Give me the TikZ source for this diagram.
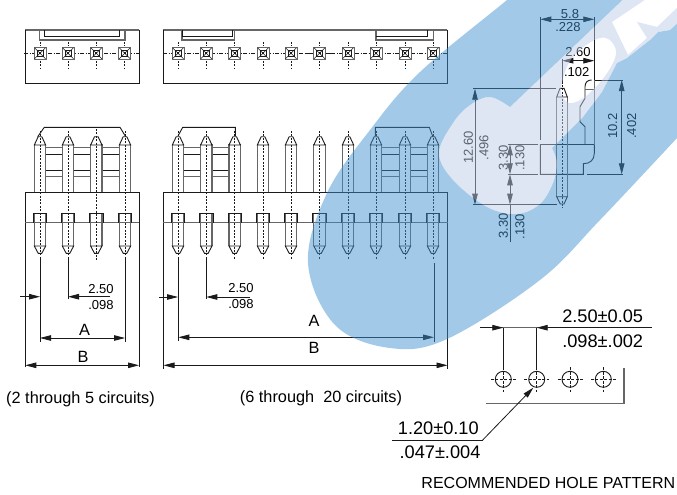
\documentclass[tikz,border=0pt]{standalone}
\usepackage{fontspec}
\setmainfont{Liberation Sans}
\usetikzlibrary{arrows.meta}
\definecolor{wmblue}{HTML}{3E92D0}
\definecolor{wmpale}{HTML}{BBCCE9}
\definecolor{ink}{HTML}{1A1A1A}
\definecolor{soft}{HTML}{666666}
\newcommand{\szS}{\fontsize{13}{13}\selectfont}
\newcommand{\szM}{\fontsize{16.3}{16.3}\selectfont}
\newcommand{\szL}{\fontsize{18.2}{18.2}\selectfont}
\newcommand{\szR}{\fontsize{16}{16}\selectfont}
\tikzset{
  ln/.style={draw=ink,line width=0.9pt},
  gl/.style={draw=soft,line width=1.1pt},
  thin ln/.style={draw=ink,line width=0.5pt},
  ctr/.style={draw=ink,line width=0.8pt,dash pattern=on 2pt off 1.4pt},
  ctrl/.style={draw=ink,line width=0.6pt,dash pattern=on 4pt off 1.5pt on 1pt off 1.5pt},
  dim/.style={draw=ink,line width=0.8pt},
  dimboth/.style={dim,{Triangle[length=11pt,width=5.5pt]}-{Triangle[length=11pt,width=5.5pt]}},
  tipend/.style={dim,-{Triangle[length=11pt,width=5.5pt]}},
  txt/.style={inner sep=0pt,text=black,font=\szS},
  txtm/.style={inner sep=0pt,text=black,font=\szM},
  txtl/.style={inner sep=0pt,text=black,font=\szL},
}
% plan view of one pin
\newcommand{\PinTop}[1]{
  \fill[white] (#1-6,47.3) rectangle (#1+6,59.3);
  \draw[gl,line width=0.9pt] (#1-6,47.3) rectangle (#1+6,59.3);
  \draw[thin ln] (#1-3,50.3) rectangle (#1+3,56.3);
  \draw[thin ln] (#1-5.5,47.8) -- (#1+5.5,58.8) (#1-5.5,58.8) -- (#1+5.5,47.8);
  \fill[ink] (#1-1,52.3) rectangle (#1+1,54.3);
  \draw[ctr,line width=0.6pt] (#1,42) -- (#1,46) (#1,61) -- (#1,68);
}
% front view of one pin
\newcommand{\PinFront}[2]{
  \draw[gl] (#1-5.7,192.3) -- (#1-5.7,144) (#1+5.7,192.3) -- (#1+5.7,144);
  \draw[ln] (#1-5.7,145) -- (#1-1.8,136.7) -- (#1+1.8,136.7) -- (#1+5.7,145) -- cycle;
  \draw[gl] (#1-5.7,213.3) -- (#1-5.7,246) (#1+5.7,213.3) -- (#1+5.7,246);
  \draw[ln] (#1-5.7,246) -- (#1-1.8,253.3) -- (#1+1.8,253.3) -- (#1+5.7,246) -- cycle;
  \draw[ln] (#1-6.7,222.7) -- (#1-6.7,213.3) -- (#1+6.7,213.3) -- (#1+6.7,222.7);
  \draw[ctr] (#1,#2) -- (#1,260);
}
\newcommand{\Bars}[2]{
  \draw[gl] (#1+5.7,147.7) -- (#2-5.7,147.7) (#1+5.7,176.7) -- (#2-5.7,176.7);
  \draw[ln] (#1+5.7,154.3) -- (#2-5.7,154.3) (#1+5.7,170) -- (#2-5.7,170);
}
\newcommand{\OuterPath}{
  plot[smooth,tension=.6] coordinates {(677,138) (600,220) (540,280) (447,339) (390,348) (335,325) (308,263) (327,193) (370,130) (420,72) (507,0) (530,-20)}
  -- (700,-20) -- (700,138) -- cycle}
\newcommand{\PalePath}{
  plot[smooth,tension=.6] coordinates {(510,107) (490,97) (470,105) (453,123) (439,153) (453,180) (487,207) (517,214) (540,204) (553,183) (557,163) (552,148)}
  -- (583,117) -- (602,92) -- (617,63) -- (627,58) -- (650,40) -- (658,32) -- (670,30) -- (690,12) -- (690,-10) -- (633,-10) -- cycle}
\newcommand{\HolePath}{
  plot[smooth cycle,tension=.7] coordinates {(562,83) (573,57) (600,38) (615,47) (612,65) (593,90) (573,103) (563,97)}}
\newcommand{\LetterPath}{
  (612,22) -- (628,55) -- (647,38) -- (637,22) -- (657,27) -- (680,5) -- (680,-5) -- (652,-5) -- cycle}
\begin{document}
\begin{tikzpicture}[x=1pt,y=-1pt]
\useasboundingbox (0,0) rectangle (677,495);
\fill[white] (0,0) rectangle (677,495);
% ---- plan view, small connector
\draw[gl] (25.3,30) -- (139,30);
\draw[ln] (139,30) -- (139,83) -- (25.3,83) -- (25.3,30);
\draw[gl] (39.3,30) -- (39.3,40) -- (125,40) -- (125,30);
\draw[ln] (44.7,30) -- (44.7,36) -- (119.3,36) -- (119.3,30);
\draw[ctrl] (24,53.3) -- (140,53.3);
\foreach \p in {40,68,96.3,124.7} {\PinTop{\p}}
% ---- plan view, long connector
\draw[gl] (163.3,30) -- (447.3,30);
\draw[ln] (447.3,30) -- (447.3,83.5) -- (163.3,83.5) -- (163.3,30);
\draw[gl] (182,30) -- (182,40) -- (234.7,40) -- (234.7,30);
\draw[ln] (182,30) -- (182,36) -- (232.7,36) -- (232.7,30);
\draw[gl] (376,30) -- (376,40) -- (433.3,40) -- (433.3,30);
\draw[ln] (376,36) -- (427.7,36) -- (427.7,30);
\draw[ctrl] (163,53.3) -- (448,53.3);
\draw[ln] (306,53.3) -- (333,53.3);
\foreach \p in {178,206.3,234.7,263,291,319.5,348,376,405,433} {\PinTop{\p}}
% ---- front view, small connector
\draw[ln] (25,367) -- (25,192.3) -- (139,192.3) -- (139,367);
\draw[gl] (25,222.7) -- (139,222.7);
\Bars{40}{68} \Bars{68}{96.3} \Bars{96.3}{125}
\fill[white] (40-5,214) rectangle (40+6,222);
\fill[white] (68-5,214) rectangle (68+6,222);
\fill[white] (96.3-5,214) rectangle (96.3+6,222);
\fill[white] (125-5,214) rectangle (125+6,222);
\foreach \p/\t in {40/131,68/131,96.3/129,125/131} {\fill[white] (\p-6,223) rectangle (\p+6,224); \PinFront{\p}{\t}}
\draw[ln] (37.7,136.7) -- (44.3,127.3) -- (120,127.3) -- (125.7,136.7);
% ---- front view, long connector
\draw[ln] (163.3,369) -- (163.3,192.3) -- (447.5,192.3) -- (447.5,369);
\draw[gl] (163.3,222.7) -- (447.5,222.7);
\Bars{178}{206.3} \Bars{206.3}{234.7} \Bars{376}{405} \Bars{405}{433}
\foreach \p in {178,206.3,234.7,263,291,319.5,348,376,405,433} {\fill[white] (\p-6,214) rectangle (\p+6,222); \PinFront{\p}{131}}
\draw[ln] (178,136) -- (182.7,127.3) -- (235.3,127.3) -- (235.3,136);
\draw[ln] (375.3,136) -- (375.3,127.3) -- (429.3,127.3) -- (433,137);
% ---- dimensions small
\draw[dim] (40,258) -- (40,342) (68,258) -- (68,299) (125,258) -- (125,342);
\coordinate (a1) at (20,296.7); \coordinate (a2) at (40,296.7);
\coordinate (a3) at (110,296.7); \coordinate (a4) at (68,296.7);
\draw[tipend] (a1) -- (a2); \draw[tipend] (a3) -- (a4);
\node[txt] (t1) at (101,289.3) {2.50};
\node[txt] (t2) at (101,304.8) {.098};
\coordinate (a5) at (40,338); \coordinate (a6) at (125,338);
\draw[dimboth] (a5) -- (a6);
\node[txtm] (t3) at (84.5,329.5) {A};
\coordinate (b1) at (25.3,365.3); \coordinate (b2) at (139,365.3);
\draw[dimboth] (b1) -- (b2);
\node[txtm] (t4) at (83,356.5) {B};
\node[txtm] (t5) at (80.5,399) {(2 through 5 circuits)};
% ---- dimensions long
\draw[dim] (178,258) -- (178,341) (206.3,258) -- (206.3,299) (434,263) -- (434,341.7);
\coordinate (c1) at (159.3,297); \coordinate (c2) at (178,297);
\coordinate (c3) at (250,297); \coordinate (c4) at (206.3,297);
\draw[tipend] (c1) -- (c2); \draw[tipend] (c3) -- (c4);
\node[txt] (t6) at (241,288.3) {2.50};
\node[txt] (t7) at (241,303.8) {.098};
\coordinate (c5) at (178.3,337.3); \coordinate (c6) at (434,337.3);
\draw[dimboth] (c5) -- (c6);
\node[txtm] (t8) at (314,320.5) {A};
\coordinate (c7) at (163.5,365.3); \coordinate (c8) at (447.5,365.3);
\draw[dimboth] (c7) -- (c8);
\node[txtm] (t9) at (314,348) {B};
\node[txtm] (t10) at (321,398) {(6 through\ \ 20 circuits)};
% ---- side view
\draw[ln] (540.3,144.3) -- (594.3,144.3);
\draw[ln] (594.3,144.3) -- (594.3,153.3) .. controls (594.3,160) and (590,163.7) .. (583.3,163.7) -- (583.3,174.3) -- (540.3,174.3) -- (540.3,144.3);
\draw[gl] (594.3,144.3) -- (594.3,80);
\draw[ln] (585,144.3) -- (585,126.7) -- (580,121.7) -- (580,106.7) -- (585,98.3) -- (585,86.7) .. controls (585,82) and (588,80) .. (591.7,80);
\draw[gl] (585,89.3) -- (594.3,89.3);
\draw[gl] (556.7,96.7) -- (556.7,196.7) (567.3,96.7) -- (567.3,196.7);
\draw[ln] (556.7,97) -- (560,88.3) -- (564,88.3) -- (567.3,97) -- cycle;
\draw[ln] (556.7,196.7) -- (560.3,204) -- (564,204) -- (567.3,196.7) -- cycle;
\draw[ctr,line width=0.6pt] (562,85) -- (562,208);
% dims of side view
\draw[dim] (540.3,17) -- (540.3,140) (594.3,17) -- (594.3,80);
\coordinate (d1) at (540.3,19.3); \coordinate (d2) at (594.3,19.3);
\draw[dimboth] (d1) -- (d2);
\node[txt] (t11) at (570,13.7) {5.8};
\node[txt] (t12) at (568,26.7) {.228};
\draw[dim] (562.3,59) -- (562.3,84);
\coordinate (d3) at (562.3,60.7); \coordinate (d4) at (594.3,60.7);
\draw[dimboth] (d3) -- (d4);
\node[txt] (t13) at (578,52.3) {2.60};
\node[txt] (t14) at (576.7,71.7) {.102};
\draw[dim] (595,80) -- (623.3,80) (587.3,174.3) -- (623.3,174.3);
\coordinate (d5) at (621.7,80); \coordinate (d6) at (621.7,174.3);
\draw[dimboth] (d5) -- (d6);
\node[txt,rotate=90] (t15) at (612.7,126) {10.2};
\node[txt,rotate=90] (t16) at (631.7,126) {.402};
\draw[dim] (473.3,88.7) -- (556,88.7) (473.3,204.7) -- (556.7,204.7);
\coordinate (d7) at (475,88.7); \coordinate (d8) at (475,204.7);
\draw[dimboth] (d7) -- (d8);
\node[txt,rotate=90] (t17) at (468.3,147.7) {12.60};
\node[txt,rotate=90] (t18) at (484,147.7) {.496};
\draw[dim] (508.3,144.3) -- (538.3,144.3) (508.3,174.3) -- (538.3,174.3);
\coordinate (d9) at (510,144.3); \coordinate (d10) at (510,174.3);
\coordinate (d11) at (510,204.7); \coordinate (d12) at (510,241.7);
\draw[dimboth] (d9) -- (d10);
\draw[dimboth] (d10) -- (d11);
\draw[dim] (d11) -- (d12);
\node[txt,rotate=90] (t19) at (503.3,158) {3.30};
\node[txt,rotate=90] (t20) at (520,158) {.130};
\node[txt,rotate=90] (t21) at (503.3,225.7) {3.30};
\node[txt,rotate=90] (t22) at (520,226.7) {.130};
% ---- hole pattern
\foreach \h in {503.3,536.7,570,603.3} {
  \draw[ln] (\h,379.3) circle (8);
  \draw[draw=ink,line width=0.5pt,dash pattern=on 3pt off 1.5pt] (\h-12.5,379.3) -- (\h+12.5,379.3) (\h,367) -- (\h,392);
}
\coordinate (e0) at (480,327.7); \coordinate (e1) at (503.3,327.7);
\coordinate (e2) at (536.7,327.7); \coordinate (e3) at (651.7,327.7);
\draw[gl] (e0) -- (e3);
\draw[tipend] (e0) -- (e1);
\draw[tipend] (e3) -- (e2);
\draw[dim] (e1) -- (503.3,369) (e2) -- (536.7,369);
\node[txtl] (t23) at (602.7,316.7) {2.50±0.05};
\node[txtl] (t24) at (602.7,341) {.098±.002};
\draw[gl] (624,368.3) -- (624,403.3) -- (486,403.3);
\coordinate (f0) at (392.3,440); \coordinate (f1) at (482.7,440); \coordinate (f2) at (533.3,387.7);
\draw[dim] (f0) -- (f1);
\draw[tipend] (f1) -- (f2);
\node[txtl] (t25) at (438.3,428.3) {1.20±0.10};
\node[txtl] (t26) at (440,452.3) {.047±.004};
\node[inner sep=0pt,font=\szR,text=black] (t27) at (548.3,483.3) {RECOMMENDED HOLE PATTERN};
% ---- translucent watermark over the drawing
\begin{scope}
  \clip (0,0) rectangle (677,495);
  \fill[wmblue,fill opacity=.48,even odd rule] \OuterPath \PalePath;
  \fill[wmpale,fill opacity=.48,even odd rule] \PalePath \HolePath \LetterPath;
\end{scope}
\end{tikzpicture}
\end{document}
